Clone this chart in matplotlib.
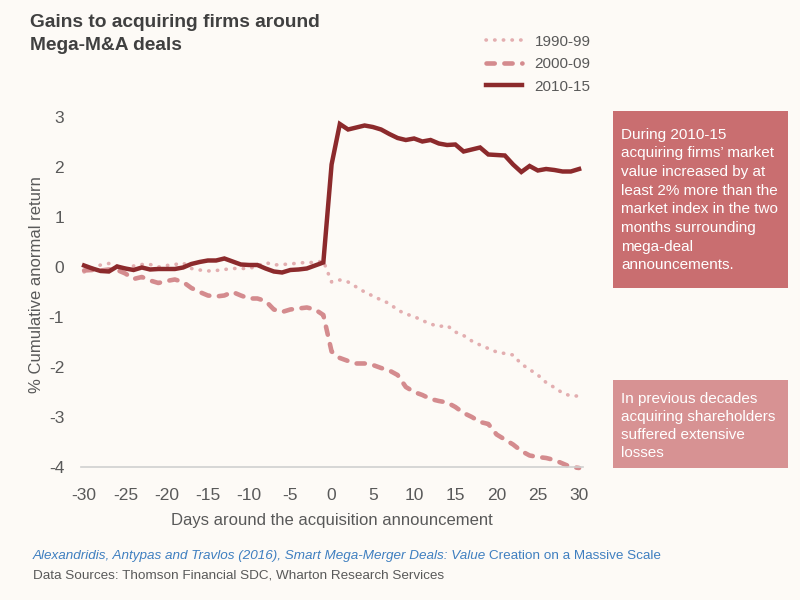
import matplotlib
matplotlib.use("Agg")
import matplotlib.pyplot as plt
from matplotlib.patches import Rectangle

plt.rcParams['font.family'] = ['Liberation Sans', 'DejaVu Sans']

days = list(range(-30, 31))

s1990 = [-0.10, -0.02, 0.04, 0.07, 0.02, -0.03, 0.02, 0.05, 0.05, 0.00,
         0.03, 0.05, 0.08, -0.03, -0.06, -0.08, -0.07, -0.05, -0.03, -0.03,
         -0.03, 0.02, 0.09, 0.04, 0.05, 0.06, 0.08, 0.09, 0.09, 0.12,
         -0.30, -0.26, -0.30, -0.40, -0.50, -0.58, -0.66, -0.73, -0.86, -0.94,
         -0.99, -1.07, -1.14, -1.19, -1.17, -1.30, -1.37, -1.48, -1.56, -1.63,
         -1.70, -1.73, -1.76, -1.94, -2.05, -2.16, -2.31, -2.41, -2.52, -2.58,
         -2.58]

s2000 = [-0.07, -0.06, -0.07, -0.05, -0.06, -0.13, -0.24, -0.20, -0.27, -0.32,
         -0.28, -0.25, -0.30, -0.42, -0.50, -0.57, -0.59, -0.57, -0.50, -0.57,
         -0.63, -0.63, -0.68, -0.85, -0.90, -0.85, -0.83, -0.81, -0.85, -0.96,
         -1.69, -1.82, -1.88, -1.93, -1.93, -1.96, -2.02, -2.07, -2.16, -2.40,
         -2.50, -2.56, -2.64, -2.68, -2.71, -2.80, -2.92, -3.00, -3.10, -3.14,
         -3.35, -3.45, -3.55, -3.68, -3.77, -3.80, -3.82, -3.86, -3.93, -4.00,
         -4.02]

s2010 = [0.03, -0.03, -0.08, -0.09, 0.01, -0.03, -0.06, -0.01, -0.05, -0.04,
         -0.04, -0.04, -0.01, 0.06, 0.10, 0.13, 0.13, 0.17, 0.11, 0.05,
         0.04, 0.04, -0.03, -0.09, -0.11, -0.06, -0.05, -0.03, 0.03, 0.09,
         2.05, 2.86, 2.75, 2.79, 2.83, 2.80, 2.75, 2.66, 2.58, 2.54,
         2.57, 2.51, 2.54, 2.47, 2.44, 2.45, 2.31, 2.35, 2.39, 2.25,
         2.24, 2.23, 2.05, 1.90, 2.02, 1.93, 1.96, 1.94, 1.91, 1.91,
         1.96]

series_labels = ['1990-99', '2000-09', '2010-15']
x_ticks = list(range(-30, 31, 5))
y_ticks = list(range(-4, 4))

bg = '#fdfaf6'
grey = '#595959'

fig = plt.figure(figsize=(8, 6), dpi=100, facecolor=bg)
ax = fig.add_axes([0.101, 0.2217, 0.628, 0.6083], facecolor=bg)

l1, = ax.plot(days, s1990, color='#e3aeb0', lw=2.6, linestyle=(0, (0.1, 2.3)),
              dash_capstyle='round', label=series_labels[0])
l2, = ax.plot(days, s2000, color='#d48b8e', lw=3.3, linestyle=(0, (1.8, 2.1)),
              dash_capstyle='round', label=series_labels[1], clip_on=False)
l3, = ax.plot(days, s2010, color='#8c2a2c', lw=3.2, solid_joinstyle='miter',
              label=series_labels[2])

ax.set_xlim(-30.4, 30.5)
ax.set_ylim(-4, 3.3)
ax.set_xticks(x_ticks)
ax.set_xticklabels([str(v) for v in x_ticks])
ax.set_yticks(y_ticks)
ax.set_yticklabels([str(v) for v in y_ticks])
ax.tick_params(axis='both', length=0, labelsize=12.5, colors=grey)
ax.tick_params(axis='x', pad=15)
ax.tick_params(axis='y', pad=12)
for s in ['top', 'right', 'left']:
    ax.spines[s].set_visible(False)
ax.spines['bottom'].set_color('#d0d0d0')
ax.spines['bottom'].set_linewidth(1.2)

ax.set_xlabel('Days around the acquisition announcement', fontsize=12, color=grey, labelpad=7.5)
ax.set_ylabel('% Cumulative anormal return', fontsize=12, color=grey, labelpad=3)

fig.text(0.0375, 1 - 14/600, 'Gains to acquiring firms around\nMega-M&A deals', fontsize=13.8,
         fontweight='bold', color='#404040', va='top', ha='left', linespacing=1.5)

leg = fig.legend(handles=[l1, l2, l3], loc='upper left', bbox_to_anchor=(0.59, 0.965),
                 frameon=False, fontsize=11, labelcolor=grey, handlelength=2.4,
                 handletextpad=0.8, labelspacing=0.55)

box1 = ('During 2010-15\nacquiring firms\u2019 market\nvalue increased by at\n'
        'least 2% more than the\nmarket index in the two\nmonths surrounding\n'
        'mega-deal\nannouncements.')
box2 = 'In previous decades\nacquiring shareholders\nsuffered extensive\nlosses'

fig.patches.append(Rectangle((613/800, 1-288/600), 175/800, 177/600,
                             transform=fig.transFigure, facecolor='#c96e70', edgecolor='none'))
fig.patches.append(Rectangle((613/800, 1-468/600), 175/800, 88/600,
                             transform=fig.transFigure, facecolor='#d79293', edgecolor='none'))
fig.text(621/800, 1-200/600, box1, fontsize=11, color='white', va='center', ha='left', linespacing=1.42)
fig.text(621/800, 1-426/600, box2, fontsize=11, color='white', va='center', ha='left', linespacing=1.38)

blue = '#3f7fc0'
t1 = fig.text(33/800, 1-556/600, 'Alexandridis, Antypas and Travlos (2016), Smart Mega-Merger Deals: Value',
              fontsize=9.7, style='italic', color=blue, va='center', ha='left')
fig.canvas.draw()
bb = t1.get_window_extent()
fig.text(bb.x1/800 + 3/800, 1-556/600, 'Creation on a Massive Scale', fontsize=9.7, color=blue,
         va='center', ha='left')
fig.text(33/800, 1-575/600, 'Data Sources: Thomson Financial SDC, Wharton Research Services',
         fontsize=9.7, color=grey, va='center', ha='left')

fig.savefig('out.png', dpi=100, facecolor=bg)
